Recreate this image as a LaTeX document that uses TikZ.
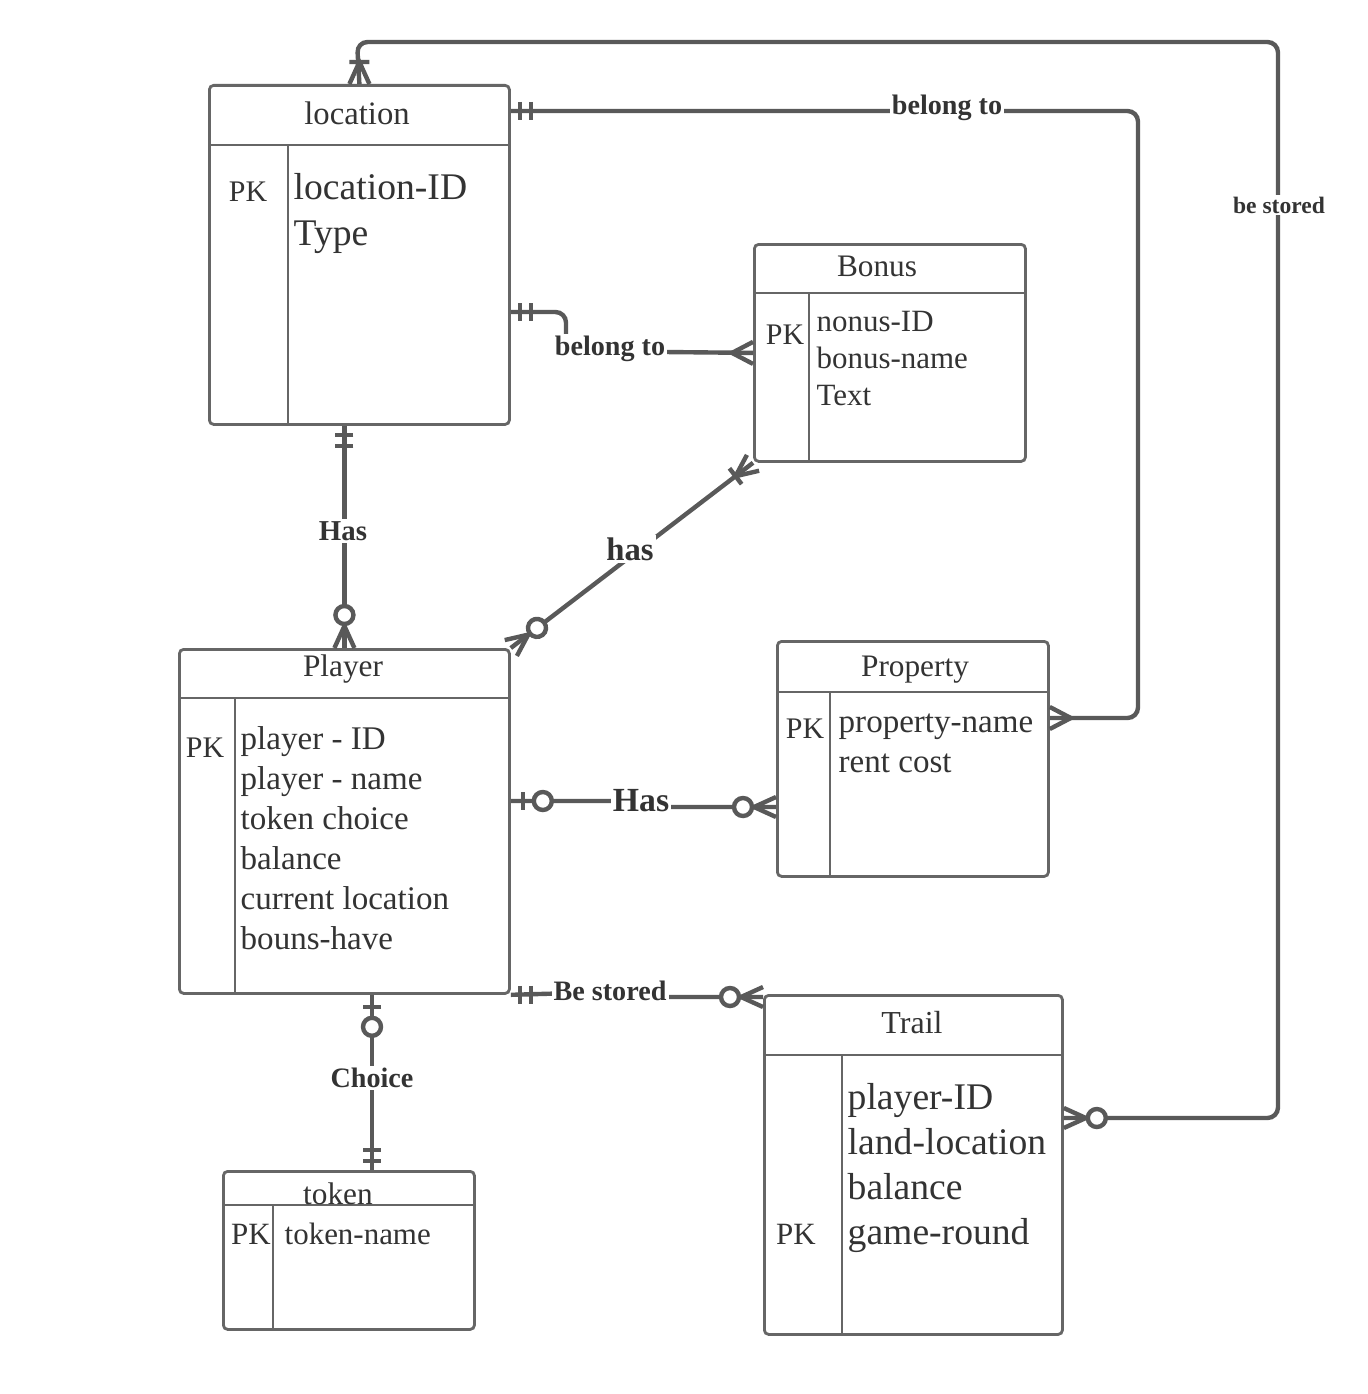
\documentclass[tikz,border=0pt]{standalone}
\usepackage{fontspec}
\setmainfont{Liberation Serif}
\usetikzlibrary{calc}
\definecolor{linegray}{HTML}{595959}
\definecolor{boxgray}{HTML}{666666}
\definecolor{textgray}{HTML}{333333}
\tikzset{
  entity/.style={draw=boxgray, line width=0.8pt, rounded corners=1.2pt, anchor=north west, inner sep=0pt},
  part/.style={draw=boxgray, line width=0.8pt},
  link/.style={draw=linegray, line width=1.25pt, rounded corners=3pt},
  mk/.style={draw=linegray, line width=1.25pt},
  rel/.style={fill=white, text=textgray, inner sep=0.6pt, font=\bfseries\fontsize{#1}{#1}\selectfont},
  title/.style={text=textgray, inner sep=0pt, font=\fontsize{#1}{#1}\selectfont},
  attr/.style={text=textgray, inner sep=0pt, anchor=west, text height=0.7em, text depth=0.2em,
    font=\fontsize{#1}{#1}\selectfont},
  % crow's foot ends, drawn outward along +x from the box edge
  pics/onlyone/.style={code={\draw[mk] (9,-9) -- (9,9) (20,-9) -- (20,9);}},
  pics/onemany/.style={code={\draw[mk] (0,-10) -- (22,0) -- (0,10) (22,-10) -- (22,10);}},
  pics/zeroone/.style={code={\draw[mk] (12,-9) -- (12,9); \draw[mk, fill=white] (32,0) circle (9);}},
  pics/zeromany/.style={code={\draw[mk] (0,-10) -- (22,0) -- (0,10); \draw[mk, fill=white] (33,0) circle (9);}},
  pics/many/.style={code={\draw[mk] (0,-11) -- (21,0) -- (0,11);}},
}
\begin{document}
\begin{tikzpicture}[x=0.01cm, y=-0.01cm]
\useasboundingbox[fill=white] (0,0) rectangle (1368,1394);

% entities: name / corner / size / header / divider
\foreach \name/\x/\y/\w/\h/\hd/\dv in {location/208/84/300/339/61/80, bonus/753/243/271/217/50/56,
  player/178/648/330/344/50/57, property/776/640/271/235/52/54, token/222/1170/251/158/35/51,
  trail/763/994/298/339/61/79}
{
  \node[entity, minimum width=\w*0.01cm, minimum height=\h*0.01cm] (\name) at (\x,\y) {};
  \draw[part] ($(\name.north west)+(0,\hd)$) -- ($(\name.north east)+(0,\hd)$);
  \draw[part] ($(\name.north west)+(\dv,\hd)$) -- ($(\name.south west)+(\dv,0)$);
}

\node[title=9.3] (location-title) at (357,113) {location};
\node[title=8.9] (bonus-title) at (877,266) {Bonus};
\node[title=8.9] (player-title) at (343,669) {Player};
\node[title=8.9] (property-title) at (915,670) {Property};
\node[title=8.9] (token-title) at (338,1194) {token};
\node[title=9.1] (trail-title) at (912,1023) {Trail};

\node[title=8.5] (location-pk) at (248,192) {PK};
\node[title=8.5] (bonus-pk) at (785,335) {PK};
\node[title=8.5] (player-pk) at (205,748) {PK};
\node[title=8.5] (property-pk) at (805,729) {PK};
\node[title=8.8] (token-pk) at (251,1234) {PK};
\node[title=8.8] (trail-pk) at (796,1234) {PK};

\foreach \a[count=\i] in {location-ID, Type}
  \node[attr=10.7] (location-attr-\i) at (293,145+46*\i) {\a};
\foreach \a[count=\i] in {nonus-ID, bonus-name, Text}
  \node[attr=8.8] (bonus-attr-\i) at (816,286+37*\i) {\a};
\foreach \a[count=\i] in {player - ID, player - name, token choice, balance, current location, bouns-have}
  \node[attr=9.4] (player-attr-\i) at (240,701+40*\i) {\a};
\foreach \a[count=\i] in {property-name, rent cost}
  \node[attr=9.4] (property-attr-\i) at (838,684+40*\i) {\a};
\node[attr=8.8] (token-attr-1) at (284,1236) {token-name};
\foreach \a[count=\i] in {player-ID, land-location, balance, game-round}
  \node[attr=10.7] (trail-attr-\i) at (847,1056+45*\i) {\a};

% connectors
\coordinate (trail-e) at ($(trail.north east)+(0,124)$);
\draw[link] (location.north) -- (357,42) -- (1278,42) -- (1278,1118) -- (trail-e);
\node[rel=6.7] (be-stored) at (1279,205) {be stored};
\pic[rotate=90] at (location.north) {onemany};
\pic[rotate=0] at (trail-e) {zeromany};

\coordinate (location-e1) at ($(location.north east)+(0,27)$);
\coordinate (property-e) at ($(property.north east)+(0,78)$);
\draw[link] (location-e1) -- (1138,111) -- (1138,718) -- (property-e);
\node[rel=8] (belong-to-1) at (947,108) {belong to};
\pic at (location-e1) {onlyone};
\pic at (property-e) {many};

\coordinate (location-e2) at ($(location.north east)+(0,228)$);
\draw[link] (location-e2) -- (566,312) -- (566,351) -- (bonus.west);
\node[rel=8] (belong-to-2) at (610,349) {belong to};
\pic at (location-e2) {onlyone};
\pic[rotate=180] at (bonus.west) {many};

\coordinate (location-s) at (location.south -| player.north);
\draw[link] (location-s) -- (player.north);
\node[rel=8.2] (has-1) at (343,531) {Has};
\pic[rotate=270] at (location-s) {onlyone};
\pic[rotate=90] at (player.north) {zeromany};

\draw[link] (player.north east) -- (bonus.south west);
\node[rel=9.3] (has-2) at (630,549) {has};
\pic[rotate=37.5] at (player.north east) {zeromany};
\pic[rotate=217.5] at (bonus.south west) {onemany};

\coordinate (player-e) at ($(player.north east)+(0,153)$);
\coordinate (property-w) at ($(property.north west)+(0,167)$);
\draw[link] (player-e) -- (641,801) -- (641,807) -- (property-w);
\node[rel=9.6] (has-3) at (641,801) {Has};
\pic at (player-e) {zeroone};
\pic[rotate=180] at (property-w) {zeromany};

\coordinate (trail-w) at ($(trail.north west)+(0,3)$);
\draw[link] (player.south east) -- (610,992) -- (610,997) -- (trail-w);
\node[rel=8] (be-stored-2) at (610,991) {Be stored};
\pic at (player.south east) {onlyone};
\pic[rotate=180] at (trail-w) {zeromany};

\coordinate (player-s) at ($(player.south west)+(194,0)$);
\coordinate (token-n) at ($(token.north west)+(150,0)$);
\draw[link] (player-s) -- (token-n);
\node[rel=8] (choice) at (372,1078) {Choice};
\pic[rotate=270] at (player-s) {zeroone};
\pic[rotate=90] at (token-n) {onlyone};
\end{tikzpicture}
\end{document}
